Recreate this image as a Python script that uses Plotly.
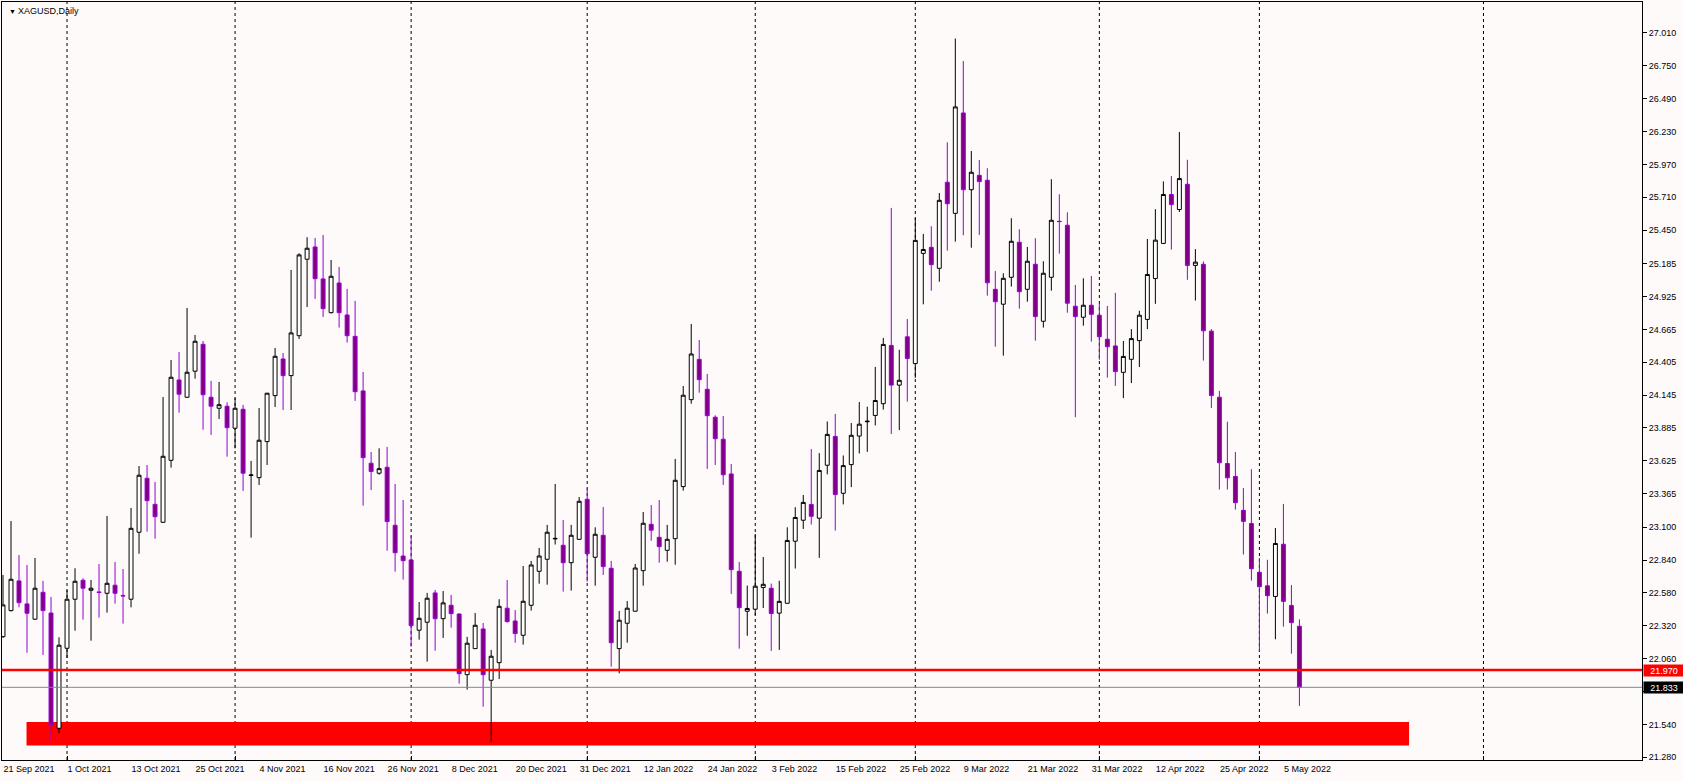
import pandas as pd
import plotly.graph_objects as go

# ---------------- data (XAGUSD daily) ----------------
dates = pd.bdate_range("2021-09-21", "2022-05-09")
dates = dates[~dates.isin(pd.to_datetime(["2021-12-24", "2022-04-15"]))]

opens = [22.234, 22.440, 22.675, 22.493, 22.372, 22.585, 22.421, 21.509, 22.142, 22.530,
         22.680, 22.601, 22.588, 22.577, 22.641, 22.560, 22.530, 23.060, 23.487, 23.281,
         23.139, 23.629, 24.265, 24.128, 24.334, 24.547, 24.128, 24.041, 24.057, 23.883,
         24.033, 23.509, 23.492, 23.777, 24.141, 24.431, 24.299, 24.615, 25.220, 25.317,
         25.064, 24.797, 25.032, 24.779, 24.610, 24.178, 23.606, 23.527, 23.574, 23.115,
         22.872, 22.841, 22.285, 22.348, 22.580, 22.376, 22.482, 22.413, 21.933, 22.139,
         22.295, 21.889, 22.028, 22.459, 22.358, 22.245, 22.482, 22.751, 22.846, 23.007,
         22.957, 22.819, 23.004, 23.321, 22.862, 23.036, 22.775, 22.139, 22.340, 22.435,
         22.756, 23.123, 23.020, 22.917, 23.009, 23.421, 24.109, 24.428, 24.191, 23.970,
         23.796, 23.521, 22.751, 22.435, 22.451, 22.623, 22.617, 22.420, 22.498, 22.989,
         23.155, 23.280, 23.171, 23.590, 23.818, 23.368, 23.595, 23.821, 23.934, 23.984,
         24.077, 24.538, 24.224, 24.606, 24.394, 25.266, 25.314, 25.148, 25.829, 25.583,
         26.377, 25.770, 25.884, 25.845, 24.982, 24.864, 25.077, 25.354, 24.982, 25.180,
         24.729, 25.077, 25.520, 25.489, 24.848, 24.761, 24.856, 24.777, 24.587, 24.534,
         24.325, 24.428, 24.576, 24.744, 25.067, 25.345, 25.732, 25.613, 25.813, 25.171,
         25.180, 24.651, 24.128, 23.604, 23.501, 23.233, 23.129, 22.743, 22.636, 22.552,
         22.965, 22.481, 22.316]
highs = [22.722, 23.149, 22.880, 22.801, 22.856, 22.675, 22.548, 22.229, 22.603, 22.775,
         22.696, 22.682, 22.809, 23.189, 22.825, 22.769, 23.252, 23.584, 23.592, 23.458,
         24.130, 24.423, 24.486, 24.834, 24.621, 24.573, 24.257, 24.249, 24.088, 24.122,
         24.067, 23.624, 24.043, 24.162, 24.518, 24.478, 25.135, 25.267, 25.394, 25.388,
         25.412, 25.214, 25.159, 24.985, 24.890, 24.328, 23.695, 23.724, 23.735, 23.442,
         23.315, 23.031, 22.508, 22.580, 22.603, 22.595, 22.564, 22.418, 22.232, 22.421,
         22.342, 22.129, 22.530, 22.682, 22.445, 22.793, 22.833, 22.936, 23.118, 23.442,
         23.157, 23.118, 23.339, 23.408, 23.099, 23.260, 22.833, 22.437, 22.516, 22.809,
         23.220, 23.276, 23.315, 23.118, 23.640, 24.217, 24.708, 24.581, 24.312, 23.985,
         23.980, 23.600, 22.825, 22.638, 23.046, 22.864, 22.654, 22.676, 23.099, 23.258,
         23.355, 23.718, 23.686, 23.936, 23.996, 23.667, 23.924, 24.090, 24.053, 24.368,
         24.597, 25.626, 24.503, 24.747, 25.545, 25.420, 25.481, 25.744, 26.145, 26.966,
         26.788, 26.076, 26.005, 25.940, 25.127, 25.109, 25.544, 25.457, 25.317, 25.386,
         25.204, 25.853, 25.734, 25.591, 25.016, 25.069, 25.087, 24.866, 24.850, 24.954,
         24.573, 24.667, 24.812, 25.380, 25.616, 25.836, 25.878, 26.227, 26.007, 25.300,
         25.203, 24.667, 24.179, 23.934, 23.695, 23.410, 23.559, 22.855, 22.842, 23.094,
         23.284, 22.642, 22.371]
lows = [22.224, 22.433, 22.466, 22.107, 22.366, 22.089, 21.411, 21.470, 22.065, 22.281,
        22.368, 22.202, 22.384, 22.424, 22.495, 22.337, 22.466, 22.890, 23.065, 23.009,
        23.133, 23.571, 24.006, 24.122, 24.275, 23.871, 23.830, 23.956, 23.658, 23.724,
        23.387, 23.017, 23.434, 23.592, 24.051, 24.027, 24.027, 24.589, 24.842, 24.906,
        24.763, 24.791, 24.679, 24.560, 24.099, 23.270, 23.394, 23.515, 22.914, 22.748,
        22.685, 22.155, 22.210, 22.036, 22.123, 22.224, 22.305, 21.862, 21.815, 22.137,
        21.680, 21.403, 21.899, 22.345, 22.186, 22.171, 22.440, 22.653, 22.645, 22.963,
        22.590, 22.598, 23.000, 22.669, 22.637, 22.722, 21.997, 21.944, 22.186, 22.433,
        22.637, 22.993, 22.819, 22.827, 22.803, 23.389, 24.077, 24.164, 23.561, 23.592,
        23.434, 22.572, 22.139, 22.241, 22.404, 22.460, 22.121, 22.129, 22.495, 22.773,
        23.086, 23.121, 22.857, 23.518, 23.073, 23.280, 23.417, 23.683, 23.696, 23.905,
        24.030, 23.837, 23.868, 24.093, 24.281, 24.863, 24.971, 25.042, 25.288, 25.359,
        25.409, 25.311, 25.412, 24.932, 24.528, 24.457, 25.003, 24.829, 24.884, 24.576,
        24.679, 24.971, 25.264, 24.797, 23.970, 24.694, 24.568, 24.425, 24.283, 24.218,
        24.121, 24.240, 24.367, 24.667, 24.867, 25.340, 25.296, 25.594, 25.057, 24.893,
        24.418, 24.043, 23.398, 23.398, 23.239, 22.884, 22.678, 22.113, 22.416, 22.213,
        22.313, 22.099, 21.686]
closes = [22.485, 22.688, 22.503, 22.419, 22.617, 22.440, 21.533, 22.166, 22.530, 22.672,
          22.617, 22.617, 22.583, 22.656, 22.577, 22.556, 23.091, 23.511, 23.310, 23.183,
          23.661, 24.286, 24.152, 24.326, 24.571, 24.148, 24.057, 24.069, 23.887, 24.041,
          23.527, 23.513, 23.788, 24.160, 24.452, 24.299, 24.637, 25.254, 25.307, 25.066,
          24.829, 25.085, 24.797, 24.615, 24.172, 23.650, 23.541, 23.563, 23.144, 22.898,
          22.835, 22.321, 22.379, 22.538, 22.376, 22.501, 22.416, 21.941, 22.182, 22.324,
          21.933, 22.079, 22.474, 22.353, 22.258, 22.514, 22.801, 22.872, 23.060, 23.011,
          22.819, 23.036, 23.305, 22.890, 23.044, 22.788, 22.186, 22.364, 22.459, 22.777,
          23.131, 23.076, 22.946, 23.004, 23.471, 24.144, 24.470, 24.267, 23.982, 23.800,
          23.515, 22.764, 22.463, 22.457, 22.633, 22.648, 22.417, 22.513, 22.995, 23.177,
          23.296, 23.186, 23.549, 23.834, 23.358, 23.587, 23.827, 23.915, 23.938, 24.102,
          24.546, 24.224, 24.262, 24.434, 25.369, 25.297, 25.177, 25.686, 25.659, 26.425,
          25.770, 25.908, 25.834, 25.034, 24.884, 25.069, 25.362, 24.963, 25.204, 24.766,
          25.109, 25.528, 25.518, 24.872, 24.766, 24.856, 24.784, 24.607, 24.528, 24.331,
          24.451, 24.592, 24.777, 25.099, 25.371, 25.732, 25.652, 25.858, 25.171, 25.197,
          24.654, 24.141, 23.610, 23.491, 23.294, 23.146, 22.771, 22.629, 22.558, 22.971,
          22.513, 22.345, 21.833]

y_ticks = [27.010, 26.750, 26.490, 26.230, 25.970, 25.710, 25.450, 25.185, 24.925, 24.665,
           24.405, 24.145, 23.885, 23.625, 23.365, 23.100, 22.840, 22.580, 22.320, 22.060,
           21.800, 21.540, 21.280]

level_line = 21.970          # red horizontal line
bid_price = closes[-1]       # 21.833
zone_low, zone_high = 21.372, 21.559
zone_start, zone_end = 2.94, 175.7   # in bar units

# ---------------- derived positions ----------------
n = len(dates)
xs = list(range(n))
tick_idx = list(range(0, n, 8))
tick_text = [dates[i].strftime("%-d %b %Y") for i in tick_idx]
sep_idx = [i for i in range(1, n) if dates[i].month != dates[i - 1].month]
# MT4 extrapolates the future area with one slot per calendar day
future_sep = (n - 1) + (pd.Timestamp("2022-06-01") - dates[-1]).days
sep_all = sep_idx + [future_sep]

# the 21.800 label sits under the bid-price box in the reference
y_text = ["" if abs(v - bid_price) < 0.06 else f"{v:.3f}" for v in y_ticks]

BG = "#fffafa"
FONT = "Liberation Sans"

fig = go.Figure(go.Candlestick(
    x=xs, open=opens, high=highs, low=lows, close=closes,
    increasing=dict(line=dict(color="#000000", width=1), fillcolor="#ffffff"),
    decreasing=dict(line=dict(color="#9400d3", width=1), fillcolor="#800080"),
    whiskerwidth=0, hoverinfo="skip", showlegend=False,
))

shapes = []
for s in sep_all:
    shapes.append(dict(type="line", xref="x", yref="paper", x0=s, x1=s, y0=0, y1=1,
                       line=dict(color="#000000", width=1, dash="3px,3px"), layer="below"))
shapes.append(dict(type="rect", xref="x", yref="y", x0=zone_start, x1=zone_end,
                   y0=zone_low, y1=zone_high, fillcolor="#ff0000",
                   line=dict(width=0), layer="below"))
shapes.append(dict(type="line", xref="paper", yref="y", x0=0, x1=1, y0=level_line, y1=level_line,
                   line=dict(color="#ff0000", width=2.5), layer="above"))
shapes.append(dict(type="line", xref="paper", yref="y", x0=0, x1=1, y0=bid_price, y1=bid_price,
                   line=dict(color="#778899", width=1), layer="above"))

annotations = [
    dict(xref="paper", yref="paper", x=0, y=1, xshift=5, yshift=-4, xanchor="left", yanchor="top",
         text="▼", showarrow=False, font=dict(family=FONT, size=7, color="#000000")),
    dict(xref="paper", yref="paper", x=0, y=1, xshift=14, yshift=-2, xanchor="left", yanchor="top",
         text="XAGUSD,Daily", showarrow=False, font=dict(family=FONT, size=9, color="#000000")),
    dict(xref="paper", yref="y", x=1, y=level_line, xanchor="left", yanchor="middle", xshift=1,
         text="21.970", showarrow=False, bgcolor="#ff0000", width=40, height=11, align="center",
         borderpad=0, font=dict(family=FONT, size=9, color="#ffffff")),
    dict(xref="paper", yref="y", x=1, y=bid_price, xanchor="left", yanchor="middle", xshift=1,
         text=f"{bid_price:.3f}", showarrow=False, bgcolor="#000000", width=40, height=11,
         align="center", borderpad=0, font=dict(family=FONT, size=9, color="#ffffff")),
]

fig.update_layout(
    width=1683, height=781, autosize=False,
    margin=dict(l=2, r=41, t=2, b=21, pad=0),
    paper_bgcolor=BG, plot_bgcolor=BG,
    font=dict(family=FONT, size=9, color="#000000"),
    shapes=shapes, annotations=annotations,
    xaxis=dict(
        range=[-0.125, 204.81], rangeslider=dict(visible=False),
        showgrid=False, zeroline=False, showline=True, mirror=True,
        linecolor="#000000", linewidth=1,
        tickmode="array", tickvals=tick_idx, ticktext=tick_text, ticks="",
        ticklabelposition="outside right",
        tickfont=dict(family=FONT, size=9, color="#000000"),
        minor=dict(tickmode="array", tickvals=sep_all, ticks="inside", ticklen=4,
                   tickcolor="#000000", tickwidth=1, showgrid=False),
    ),
    yaxis=dict(
        side="right", range=[21.258, 27.255],
        showgrid=False, zeroline=False, showline=True, mirror=True,
        linecolor="#000000", linewidth=1,
        tickmode="array", tickvals=y_ticks, ticktext=y_text,
        ticks="outside", ticklen=4, tickcolor="#000000", tickwidth=1,
        tickfont=dict(family=FONT, size=9, color="#000000"),
    ),
)

fig.write_html("out.html", config={"displayModeBar": False},
               post_script="document.body.style.margin='0px';document.body.style.overflow='hidden';")
